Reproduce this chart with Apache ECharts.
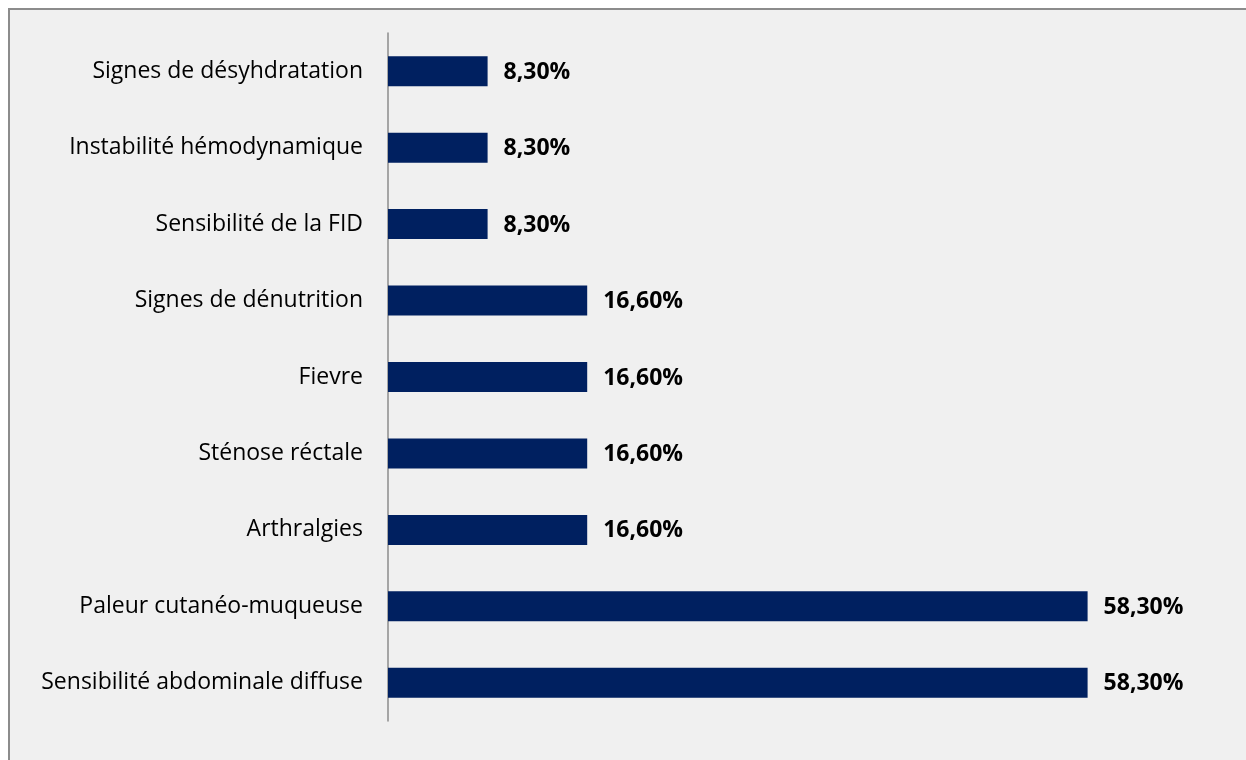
<!DOCTYPE html>
<html><head><meta charset="utf-8">
<script src="https://cdn.jsdelivr.net/npm/echarts@6/dist/echarts.min.js"></script>
<style>
html,body{margin:0;padding:0;background:#fff;width:1246px;height:760px;overflow:hidden;}
#frame{position:absolute;left:8px;top:8px;width:1260px;height:780px;background:#f0f0f0;border:2px solid #8c8c8c;box-sizing:border-box;}
#main{position:absolute;left:0;top:0;width:1246px;height:760px;}
</style></head>
<body><div id="frame"></div><div id="main"></div>
<script>
const categories = ["Signes de désyhdratation","Instabilité hémodynamique","Sensibilité de la FID","Signes de dénutrition","Fievre","Sténose réctale","Arthralgies","Paleur cutanéo-muqueuse","Sensibilité abdominale diffuse"];
const values = [8.3, 8.3, 8.3, 16.6, 16.6, 16.6, 16.6, 58.3, 58.3];
const chart = echarts.init(document.getElementById('main'));
chart.setOption({
  backgroundColor: 'transparent',
  animation: false,
  grid: {left: 388, top: 33, width: 840, height: 688, containLabel: false},
  xAxis: {type: 'value', min: 0, max: 70, show: false},
  yAxis: {type: 'category', data: categories, inverse: true,
    axisLine: {show: true, lineStyle: {color: '#8c8c8c', width: 1.5}},
    axisTick: {show: false},
    axisLabel: {margin: 25, color: '#000', fontFamily: 'Open Sans', fontSize: 23, padding: [4, 0, 0, 0]}
  },
  series: [{type: 'bar', data: values, barWidth: 30,
    itemStyle: {color: '#002060'},
    label: {show: true, position: 'right', distance: 16, color: '#000', fontFamily: 'Open Sans', fontWeight: 'bold', fontSize: 23, offset: [0, 1],
      formatter: p => p.value.toFixed(2).replace('.', ',') + '%'}
  }]
});
</script></body></html>
